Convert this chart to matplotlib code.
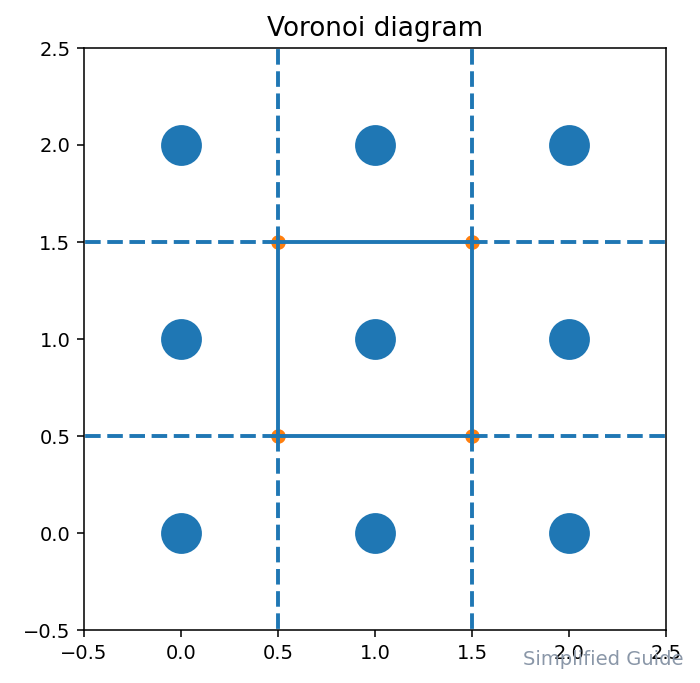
import numpy as np
import matplotlib.pyplot as plt

# 输入点 (3x3 网格)
px = [0, 1, 2, 0, 1, 2, 0, 1, 2]
py = [0, 0, 0, 1, 1, 1, 2, 2, 2]
# Voronoi 顶点
vx = [0.5, 1.5, 0.5, 1.5]
vy = [0.5, 0.5, 1.5, 1.5]
# 有限边 (顶点索引)
finite_ridges = [(0, 1), (0, 2), (1, 3), (2, 3)]
# 无限边: 顶点索引 + 方向
inf_vertex = [0, 0, 1, 1, 2, 2, 3, 3]
inf_dx = [0, -1, 0, 1, 0, -1, 0, 1]
inf_dy = [-1, 0, -1, 0, 1, 0, 1, 0]

fig = plt.figure(figsize=[5, 683 / 140], dpi=140)
ax = fig.add_axes([84 / 700, 53 / 683, 582 / 700, 582 / 683])

ax.plot(px, py, 'o', markersize=20, color='#1f77b4')
ax.plot(vx, vy, 'o', markersize=6.5, color='#ff7f0e')

for a, b in finite_ridges:
    ax.plot([vx[a], vx[b]], [vy[a], vy[b]], '-', color='#1f77b4', lw=2)

far = 2.0
for i, dx, dy in zip(inf_vertex, inf_dx, inf_dy):
    ax.plot([vx[i], vx[i] + dx * far], [vy[i], vy[i] + dy * far], '--',
            color='#1f77b4', lw=2, dashes=(4, 1.7))

ax.set_xlim(-0.5, 2.5)
ax.set_ylim(-0.5, 2.5)
ax.set_xticks(np.arange(-0.5, 2.51, 0.5))
ax.set_yticks(np.arange(-0.5, 2.51, 0.5))
ax.set_title('Voronoi diagram', fontsize=13.5, pad=6)

fig.text(0.977, 0.02, 'Simplified Guide', ha='right', va='bottom',
         fontsize=10, color='#8a97a8')

fig.savefig('out.png', dpi=140)
